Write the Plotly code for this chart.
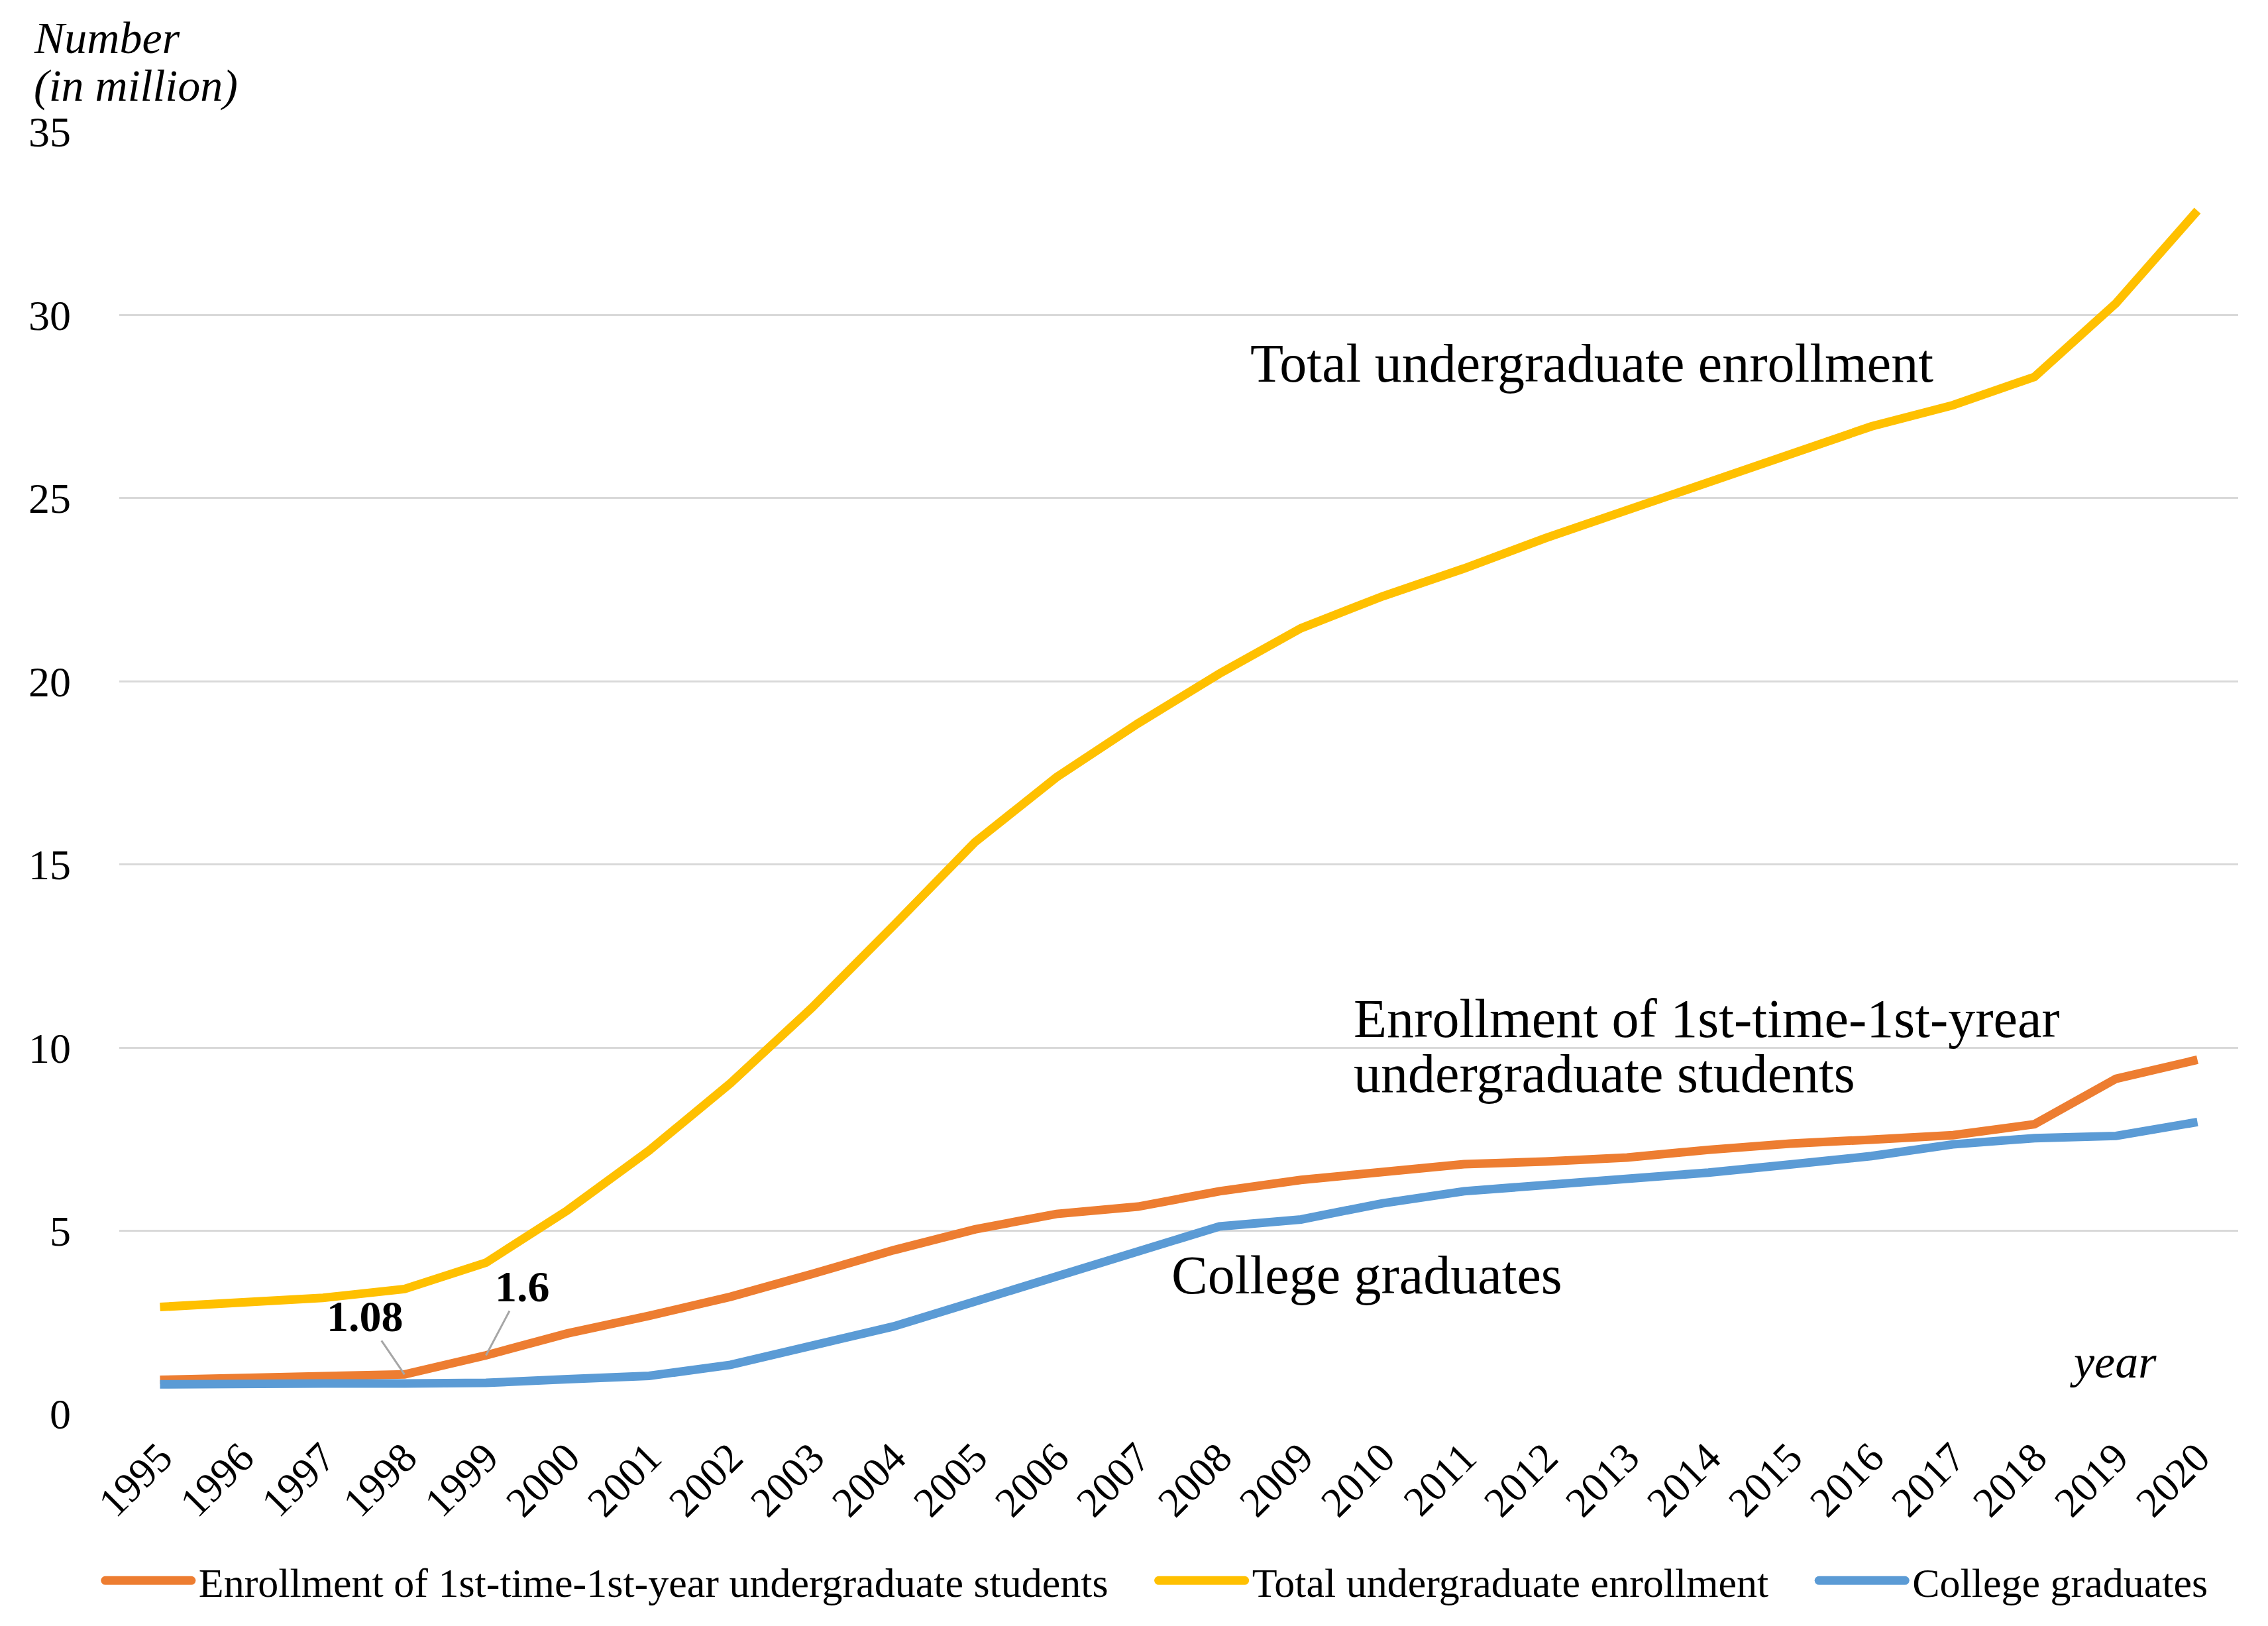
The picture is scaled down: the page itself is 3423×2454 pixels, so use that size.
import plotly.graph_objects as go

years = [str(y) for y in range(1995, 2021)]

first_year_enroll = [0.93, 0.97, 1.00, 1.08, 1.60, 2.20, 2.68, 3.20, 3.82, 4.47, 5.04, 5.46, 5.66,
                     6.08, 6.39, 6.62, 6.82, 6.89, 7.00, 7.21, 7.38, 7.49, 7.61, 7.91, 9.15, 9.67]
total_enroll = [2.92, 3.04, 3.17, 3.41, 4.13, 5.56, 7.19, 9.03, 11.09, 13.33, 15.61, 17.38, 18.85,
                20.21, 21.45, 22.32, 23.08, 23.91, 24.68, 25.48, 26.25, 26.96, 27.54, 28.31, 30.32, 32.85]
graduates = [0.81, 0.84, 0.83, 0.83, 0.85, 0.95, 1.04, 1.34, 1.88, 2.39, 3.07, 3.77, 4.48,
             5.12, 5.31, 5.75, 6.08, 6.25, 6.39, 6.59, 6.81, 7.04, 7.36, 7.53, 7.59, 7.97]

series_names = ["Enrollment of 1st-time-1st-year undergraduate students",
                "Total undergraduate enrollment",
                "College graduates"]
colors = ["#ED7D31", "#FFC000", "#5B9BD5"]
y_ticks = [0, 5, 10, 15, 20, 25, 30, 35]

FONT = "Liberation Serif"
PAD = "\u00a0" * 4

fig = go.Figure()
for i, (name, vals, col) in enumerate(zip(series_names, [first_year_enroll, total_enroll, graduates], colors)):
    label = name + (PAD if i < len(series_names) - 1 else "")
    fig.add_trace(go.Scatter(x=years, y=vals, mode="lines", name=label,
                             line=dict(color=col, width=13)))

ann_font = dict(family=FONT, size=82, color="black")
def text_ann(text, x, y, font=ann_font, yref="y"):
    fig.add_annotation(text=text, xref="paper", yref=yref, x=x, y=y,
                       xanchor="left", yanchor="middle", showarrow=False, font=font)

text_ann("Total undergraduate enrollment", 0.533, 28.68)
text_ann("Enrollment of 1st-time-1st-yrear", 0.582, 10.79)
text_ann("undergraduate students", 0.582, 9.28)
text_ann("College graduates", 0.496, 3.79)
text_ann("<i>year</i>", 0.92, 1.42, font=dict(family=FONT, size=70, color="black"))
text_ann("<i>Number</i>", -0.0409, 1.0734, font=dict(family=FONT, size=68, color="black"), yref="paper")
text_ann("<i>(in million)</i>", -0.0409, 1.036, font=dict(family=FONT, size=68, color="black"), yref="paper")

lbl_font = dict(family=FONT, size=66, color="black")
fig.add_annotation(text="<b>1.08</b>", x=3, y=first_year_enroll[3], xref="x", yref="y",
                   showarrow=True, arrowhead=0, arrowwidth=3, arrowcolor="#A6A6A6",
                   ax=-60, ay=-88, standoff=0, borderpad=0, font=lbl_font)
fig.add_annotation(text="<b>1.6</b>", x=4, y=first_year_enroll[4], xref="x", yref="y",
                   showarrow=True, arrowhead=0, arrowwidth=3, arrowcolor="#A6A6A6",
                   ax=55, ay=-104, standoff=0, borderpad=0, font=lbl_font)

fig.update_layout(
    width=3423, height=2454,
    margin=dict(l=172, r=53, t=191, b=328),
    plot_bgcolor="white", paper_bgcolor="white",
    font=dict(family=FONT, size=60, color="black"),
    showlegend=True,
    legend=dict(orientation="h", x=0.489, y=-0.13, xanchor="center", yanchor="middle",
                font=dict(family=FONT, size=62, color="black"), itemwidth=140),
    xaxis=dict(type="category", range=[-0.5, 25.5], tickangle=-45,
               tickfont=dict(family=FONT, size=63), showgrid=False, showline=False,
               ticks="", ticklabelstandoff=15),
    yaxis=dict(range=[0, 35], tickvals=y_ticks, showgrid=True, gridcolor="#D9D9D9", gridwidth=3,
               zeroline=False, showline=False, ticks="", ticklabelstandoff=72,
               tickfont=dict(family=FONT, size=64)),
)

post = """
var gd = document.querySelector('.plotly-graph-div');
function fixLegend(){
  document.querySelectorAll('.legend .legendlines path').forEach(function(p){
    p.setAttribute('d','M9,0h130');
    p.style.strokeWidth = '13px';
    p.style.strokeLinecap = 'round';
  });
}
fixLegend();
gd.on('plotly_afterplot', fixLegend);
"""
fig.write_html("out.html", post_script=post)
